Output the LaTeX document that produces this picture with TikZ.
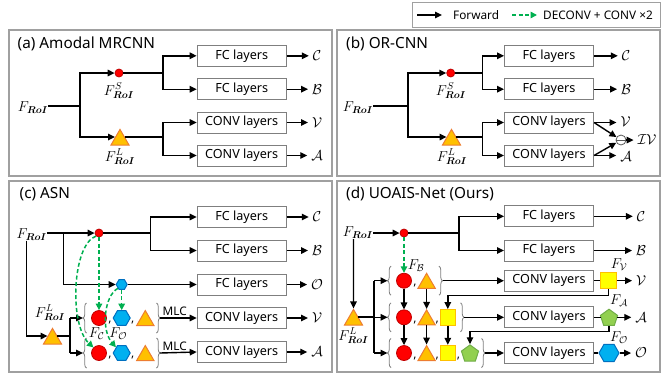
\documentclass[tikz,border=0pt]{standalone}
\usepackage[no-math]{fontspec}
\setmainfont{Noto Sans}
\usepackage{amsmath,bm}
\usetikzlibrary{arrows.meta,shapes.geometric,calc,decorations.pathreplacing}
\definecolor{pgray}{HTML}{A0A0A0}
\definecolor{bgray}{HTML}{7F7F7F}
\definecolor{dgreen}{RGB}{0,176,80}
\definecolor{redb}{HTML}{C00000}
\definecolor{triF}{HTML}{FFC000}
\definecolor{triB}{HTML}{ED7D31}
\definecolor{hexF}{HTML}{00B0F0}
\definecolor{hexB}{HTML}{0070C0}
\definecolor{sqF}{HTML}{FFFF00}
\definecolor{sqB}{HTML}{FFC000}
\definecolor{pentF}{HTML}{92D050}
\definecolor{pentB}{HTML}{70AD47}
\tikzset{
  panel/.style={draw=pgray, line width=1.3bp},
  box/.style={draw=bgray, line width=1bp, minimum width=89bp, minimum height=21bp, inner sep=0pt, font=\fontsize{12.6bp}{14bp}\selectfont},
  ttl/.style={anchor=west, inner sep=0pt, font=\fontsize{15.3bp}{17bp}\selectfont},
  lab/.style={inner sep=0pt, outer sep=4bp, font=\fontsize{14bp}{16bp}\selectfont},
  mlab/.style={inner sep=0pt, font=\fontsize{14bp}{16bp}\selectfont},
  lgt/.style={anchor=west, inner sep=0pt, font=\fontsize{11.8bp}{13bp}\selectfont},
  arr/.style={line width=1.4bp, -{Triangle[length=7bp,width=6.5bp]}},
  ln/.style={line width=1.4bp},
  garr/.style={draw=dgreen, line width=1.5bp, dash pattern=on 4bp off 2.5bp, -{Triangle[length=6.5bp,width=6.5bp]}},
  scirc/.style={circle, fill=red, draw=redb, line width=0.8bp, minimum size=8bp, inner sep=0pt},
  bcirc/.style={circle, fill=red, draw=redb, line width=0.8bp, minimum size=15bp, inner sep=0pt},
  tri/.style={regular polygon, regular polygon sides=3, fill=triF, draw=triB, line width=1bp, minimum size=#1, inner sep=0pt},
  hexa/.style={regular polygon, regular polygon sides=6, fill=hexF, draw=hexB, line width=1bp, minimum size=#1, inner sep=0pt},
  sqr/.style={rectangle, fill=sqF, draw=sqB, line width=1bp, minimum size=15.5bp, inner sep=0pt},
  pent/.style={regular polygon, regular polygon sides=5, fill=pentF, draw=pentB, line width=1bp, minimum size=18bp, inner sep=0pt},
  brc/.style={draw=bgray, line width=0.8bp, decorate, decoration={brace, amplitude=3.5bp}},
  cma/.style={inner sep=0pt, font=\fontsize{12bp}{14bp}\selectfont},
}
\begin{document}
\begin{tikzpicture}[x=1bp,y=-1bp]
\useasboundingbox (0,0) rectangle (668,375);
% legend
\draw[draw=pgray, line width=1bp] (412,2) rectangle (660,27);
\coordinate (lg1) at (417,15); \coordinate (lg2) at (442,15);
\coordinate (lg3) at (512,15); \coordinate (lg4) at (537,15);
\draw[arr] (lg1) -- (lg2);
\node[lgt] (lgf) at (453,15) {Forward};
\draw[garr] (lg3) -- (lg4);
\node[lgt] (lgd) at (543,15) {DECONV + CONV ×2};

% ---------------- panel (a)
\draw[panel] (9,30) rectangle (332,176);
\node[ttl] (ta) at (17.5,44) {(a) Amodal MRCNN};
\node[mlab] (fa) at (33,108) {$F_{\bm{RoI}}$};
\coordinate (ja1) at (80,106);
\node[scirc] (sa) at (119,73) {};
\node[mlab] (sla) at (119,91) {$F^{S}_{\bm{RoI}}$};
\node[tri=21bp] (la) at (120,139.9) {};
\node[mlab] (lla) at (120,157) {$F^{L}_{\bm{RoI}}$};
\node[box] (a1) at (241.7,55.8) {FC layers};
\node[box] (a2) at (241.7,89.2) {FC layers};
\node[box] (a3) at (241.7,122.5) {CONV layers};
\node[box] (a4) at (241.7,155.5) {CONV layers};
\node[lab] (oa1) at (317,55.8) {$\mathcal{C}$};
\node[lab] (oa2) at (317,89.2) {$\mathcal{B}$};
\node[lab] (oa3) at (317,122.5) {$\mathcal{V}$};
\node[lab] (oa4) at (317,155.5) {$\mathcal{A}$};
\coordinate (ja2) at (163,73);
\coordinate (ja3) at (la.side 3 -| ja2);
\draw[ln] (fa.east |- ja1) -- (ja1);
\draw[arr] (ja1) |- (sa.west);
\draw[arr] (ja1) |- (la.side 1);
\draw[ln] (sa.east) -- (ja2);
\draw[ln] (la.side 3) -- (ja3);
\draw[arr] (ja2) |- (a1.west);
\draw[arr] (ja2) |- (a2.west);
\draw[arr] (ja3) |- (a3.west);
\draw[arr] (ja3) |- (a4.west);
\foreach \i in {1,2,3,4} \draw[arr] (a\i.east) -- (oa\i.west);

% ---------------- panel (b)
\draw[panel] (337,30) rectangle (660,176);
\node[ttl] (tb) at (346,44) {(b) OR-CNN};
\node[mlab] (fb) at (358,108) {$F_{\bm{RoI}}$};
\coordinate (jb1) at (408,106);
\node[scirc] (sb) at (450.7,73) {};
\node[mlab] (slb) at (451,91) {$F^{S}_{\bm{RoI}}$};
\node[tri=21bp] (lb) at (451.5,139.9) {};
\node[mlab] (llb) at (452,157) {$F^{L}_{\bm{RoI}}$};
\node[box] (b1) at (549,55.8) {FC layers};
\node[box] (b2) at (549,89.2) {FC layers};
\node[box] (b3) at (549,122.5) {CONV layers};
\node[box] (b4) at (549,155.5) {CONV layers};
\node[lab] (ob1) at (626,55.8) {$\mathcal{C}$};
\node[lab] (ob2) at (626,89.2) {$\mathcal{B}$};
\node[lab] (ob3) at (625.5,121.5) {$\mathcal{V}$};
\node[lab] (ob4) at (626,156.5) {$\mathcal{A}$};
\node[circle, draw=black!65, fill=white, line width=0.8bp, minimum size=10bp, inner sep=0pt] (mb) at (621,140) {};
\draw[black!65, line width=0.8bp] (mb.west) -- (mb.east);
\node[lab] (ivb) at (647,140) {$\mathcal{IV}$};
\coordinate (jb2) at (482.3,73);
\coordinate (jb3) at (lb.side 3 -| jb2);
\draw[ln] (fb.east |- jb1) -- (jb1);
\draw[arr] (jb1) |- (sb.west);
\draw[arr] (jb1) |- (lb.side 1);
\draw[ln] (sb.east) -- (jb2);
\draw[ln] (lb.side 3) -- (jb3);
\draw[arr] (jb2) |- (b1.west);
\draw[arr] (jb2) |- (b2.west);
\draw[arr] (jb3) |- (b3.west);
\draw[arr] (jb3) |- (b4.west);
\draw[arr] (b1.east) -- (ob1.west);
\draw[arr] (b2.east) -- (ob2.west);
\draw[arr] (b3.east) -- (b3.east -| ob3.west);
\draw[arr] (b4.east) -- (b4.east -| ob4.west);
\draw[arr] (b3.east) -- (mb);
\draw[arr] (b4.east) -- (mb);
\draw[arr] (mb.east) -- (ivb.west);

% ---------------- panel (c)
\draw[panel] (9,181) rectangle (332,372);
\node[ttl] (tc) at (19.5,194) {(c) ASN};
\node[mlab] (fc) at (31.7,234.5) {$F_{\bm{RoI}}$};
\node[scirc] (sc) at (99,233) {};
\node[hexa=11bp] (hc) at (121.7,284.5) {};
\coordinate (jc1) at (63.3,233);
\coordinate (jc2) at (150.7,233);
\node[box] (c1) at (241.7,217) {FC layers};
\node[box] (c2) at (241.7,250.5) {FC layers};
\node[box] (c3) at (241.7,284.5) {FC layers};
\node[box] (c4) at (241.7,318) {CONV layers};
\node[box] (c5) at (241.7,352) {CONV layers};
\node[lab] (oc1) at (317,217) {$\mathcal{C}$};
\node[lab] (oc2) at (317,250.5) {$\mathcal{B}$};
\node[lab] (oc3) at (317,284.5) {$\mathcal{O}$};
\node[lab] (oc4) at (317,318) {$\mathcal{V}$};
\node[lab] (oc5) at (317,352) {$\mathcal{A}$};
\draw[arr] (fc.east |- sc) -- (sc.west);
\draw[arr] (jc1) |- (hc.west);
\draw[ln] (sc.east) -- (jc2);
\draw[arr] (jc2) |- (c1.west);
\draw[arr] (jc2) |- (c2.west);
\draw[arr] (hc.east) -- (c3.west);
\foreach \i in {1,...,5} \draw[arr] (c\i.east) -- (oc\i.west);
% F^L
\node[tri=21bp] (lc) at (52.5,338.9) {};
\node[mlab] (llc) at (50,313) {$F^{L}_{\bm{RoI}}$};
\draw[arr] ($(fc.south)+(-5,0)$) |- (lc.side 1);
\coordinate (jc3) at (70,318);
\coordinate (jc4) at (70,353);
\draw[ln] (lc.side 3) -- (lc.side 3 -| jc3);
\draw[ln] (jc3) -- (jc4);
% group top
\node[bcirc] (g1c) at (99,318) {};
\node[hexa=17bp] (g1h) at (121.7,318) {};
\node[tri=20bp] (g1t) at (145.3,320.5) {};
\node[cma] (g1k1) at (110,323) {,};
\node[cma] (g1k2) at (132.7,323) {,};
\draw[brc] (86.5,333) -- (86.5,303);
\draw[brc] (156.5,303) -- (156.5,333);
\coordinate (g1L) at (83,318); \coordinate (g1R) at (160,318);
% group bottom
\node[bcirc] (g2c) at (99,353) {};
\node[hexa=17bp] (g2h) at (121.7,353) {};
\node[tri=20bp] (g2t) at (145.3,355.5) {};
\node[cma] (g2k1) at (110,358) {,};
\node[cma] (g2k2) at (132.7,358) {,};
\draw[brc] (86.5,368) -- (86.5,338);
\draw[brc] (156.5,338) -- (156.5,368);
\coordinate (g2L) at (83,353); \coordinate (g2R) at (160,353);
\draw[arr] (jc3) -- (g1L);
\draw[arr] (jc4) -- (g2L);
\draw[arr] (g1R) -- (c4.west) node[pos=0.4, above, inner sep=1.5bp, font=\fontsize{11.8bp}{13bp}\selectfont] (mlc1) {MLC};
\draw[arr] (g2R) -- (c5.west) node[pos=0.4, above, inner sep=1.5bp, font=\fontsize{11.8bp}{13bp}\selectfont] (mlc2) {MLC};
\node[mlab] (fcc) at (96.7,334) {$F_{\mathcal{C}}$};
\node[mlab] (fco) at (118.3,334) {$F_{\mathcal{O}}$};
% green
\draw[garr] (sc.south) -- (g1c.north);
\draw[garr] (hc.south) -- (g1h.north);
\draw[garr] (sc.south west) .. controls (72,245) and (69,325) .. (g2c.north west);
\draw[garr] (hc.south west) .. controls (104,296) and (101,330) .. (g2h.north west);

% ---------------- panel (d)
\draw[panel] (337,181) rectangle (660,372);
\node[ttl] (td) at (346,194) {\bfseries (d) UOAIS-Net (Ours)};
\node[mlab] (fd) at (358,233) {$F_{\bm{RoI}}$};
\node[scirc] (sd) at (404,233) {};
\coordinate (jd1) at (459,233);
\node[box] (d1) at (549,216.3) {FC layers};
\node[box] (d2) at (549,250.5) {FC layers};
\node[box] (d3) at (549,280.7) {CONV layers};
\node[box] (d4) at (549,317.3) {CONV layers};
\node[box] (d5) at (549,353) {CONV layers};
\node[lab] (od1) at (641,216.3) {$\mathcal{C}$};
\node[lab] (od2) at (641,250.5) {$\mathcal{B}$};
\node[lab] (od3) at (641,280.7) {$\mathcal{V}$};
\node[lab] (od4) at (641,317.3) {$\mathcal{A}$};
\node[lab] (od5) at (641,353) {$\mathcal{O}$};
\draw[arr] (fd.east |- sd) -- (sd.west);
\draw[ln] (sd.east) -- (jd1);
\draw[arr] (jd1) |- (d1.west);
\draw[arr] (jd1) |- (d2.west);
\draw[arr] (d1.east) -- (od1.west);
\draw[arr] (d2.east) -- (od2.west);
% F^L
\node[tri=21bp] (ld) at (353.5,319.9) {};
\node[mlab] (lld) at (353.5,336) {$F^{L}_{\bm{RoI}}$};
\draw[arr] ($(fd.south)+(-4.5,0)$) -- (ld.north);
\coordinate (jd2) at (374,280.7);
\coordinate (jd3) at (374,353);
\draw[ln] (ld.side 3) -- (ld.side 3 -| jd2);
\draw[ln] (jd2) -- (jd3);
% group 1
\node[bcirc] (h1c) at (404,280.7) {};
\node[tri=20bp] (h1t) at (426.6,283.3) {};
\node[cma] (h1k1) at (415,286) {,};
\draw[brc] (391,295.2) -- (391,266.2);
\draw[brc] (439,266.2) -- (439,295.2);
\coordinate (h1L) at (387.5,280.7); \coordinate (h1R) at (442.5,280.7);
\node[mlab] (fdb) at (416,266) {$F_{\mathcal{B}}$};
% group 2
\node[bcirc] (h2c) at (404,317.3) {};
\node[tri=20bp] (h2t) at (426.6,319.9) {};
\node[sqr] (h2s) at (447.8,317.3) {};
\node[cma] (h2k1) at (415,322.6) {,};
\node[cma] (h2k2) at (437.3,322.6) {,};
\draw[brc] (391,331.8) -- (391,302.8);
\draw[brc] (460.5,302.8) -- (460.5,331.8);
\coordinate (h2L) at (387.5,317.3); \coordinate (h2R) at (464,317.3);
% group 3
\node[bcirc] (h3c) at (404,353) {};
\node[tri=20bp] (h3t) at (426.6,355.6) {};
\node[sqr] (h3s) at (447.8,353) {};
\node[pent] (h3p) at (470,353.9) {};
\node[cma] (h3k1) at (415,358.3) {,};
\node[cma] (h3k2) at (437.3,358.3) {,};
\node[cma] (h3k3) at (458.5,358.3) {,};
\draw[brc] (391,367.5) -- (391,338.5);
\draw[brc] (481.5,338.5) -- (481.5,367.5);
\coordinate (h3L) at (387.5,353); \coordinate (h3R) at (485,353);
\draw[arr] (jd2) -- (h1L);
\draw[arr] (jd2 |- h2L) -- (h2L);
\draw[arr] (jd3) -- (h3L);
\draw[arr] (h1R) -- (d3.west);
\draw[arr] (h2R) -- (d4.west);
\draw[arr] (h3R) -- (d5.west);
\draw[arr] (h1c.south) -- (h2c.north);
\draw[arr] (h1t.south) -- (h2t.north);
\draw[arr] (h2c.south) -- (h3c.north);
\draw[arr] (h2t.south) -- (h3t.north);
\draw[arr] (h2s.south) -- (h3s.north);
\draw[garr] (sd.south) -- (h1c.north);
% outputs
\node[sqr] (dfv) at (608.7,280.7) {};
\node[pent] (dfa) at (609,318.2) {};
\node[hexa=20bp] (dfo) at (609,353) {};
\node[mlab] (lfv) at (619,265) {$F_{\mathcal{V}}$};
\node[mlab] (lfa) at (619,301) {$F_{\mathcal{A}}$};
\node[mlab] (lfo) at (619,338) {$F_{\mathcal{O}}$};
\draw[ln] (d3.east) -- (dfv.west);
\draw[ln] (d4.east) -- (d4.east -| dfa.west);
\draw[ln] (d5.east) -- (dfo.west);
\draw[arr] (dfv.east) -- (od3.west);
\draw[arr] (d4.east -| dfa.east) -- (od4.west);
\draw[arr] (dfo.east) -- (od5.west);
\draw[arr] (dfv.south) -- ++(0,6.5) -| (h2s.north);
\draw[arr] (dfa.south) -- ++(0,5.5) -| (h3p.north);
\end{tikzpicture}
\end{document}
